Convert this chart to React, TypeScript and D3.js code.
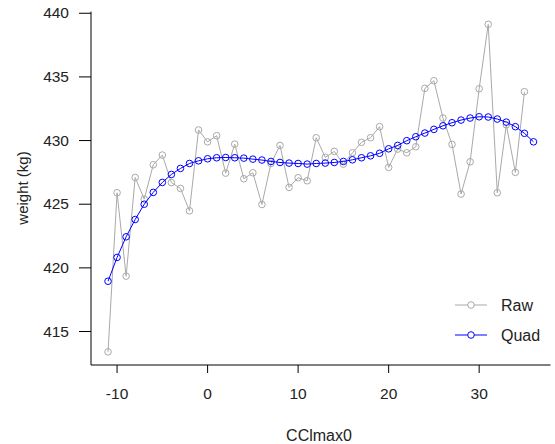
import React from "react";
import * as d3 from "d3";

const rawX = d3.range(-11, 36);
const rawY = [
  413.4, 425.9, 419.35, 427.1, 425.4, 428.1, 428.86, 426.7, 426.24, 424.48,
  430.83, 429.9, 430.38, 427.44, 429.72, 427.0, 427.47, 424.98, 428.2, 429.62,
  426.32, 427.08, 426.84, 430.22, 428.68, 429.15, 428.15, 429.04, 429.86, 430.22,
  431.09, 427.89, 429.33, 429.04, 429.51, 434.1, 434.7, 431.77, 429.7, 425.8,
  428.33, 434.07, 439.13, 425.9, 431.24, 427.5, 433.84,
];
const quadX = d3.range(-11, 37);
const quadY = [
  418.95, 420.82, 422.44, 423.8, 425.0, 425.93, 426.71, 427.34, 427.81, 428.2,
  428.41, 428.57, 428.65, 428.67, 428.65, 428.62, 428.54, 428.47, 428.36, 428.28,
  428.23, 428.2, 428.15, 428.2, 428.23, 428.28, 428.36, 428.49, 428.65, 428.8,
  429.0, 429.35, 429.62, 429.99, 430.3, 430.59, 430.88, 431.16, 431.4, 431.61,
  431.77, 431.87, 431.85, 431.69, 431.45, 431.09, 430.57, 429.9,
];
const xTicks = [-10, 0, 10, 20, 30];
const yTicks = [415, 420, 425, 430, 435, 440];
const legendLabels = ["Raw", "Quad"];

const W = 555;
const H = 444;
const FONT = "'Liberation Sans', Arial, sans-serif";

export default function App() {
  const x = d3.scaleLinear().domain([-12.88, 37.88]).range([91, 550.5]);
  const y = d3.scaleLinear().domain([412.37, 440.13]).range([365, 11.6]);
  const rawPts: [number, number][] = rawX.map((v, i) => [v, rawY[i]]);
  const quadPts: [number, number][] = quadX.map((v, i) => [v, quadY[i]]);
  const line = d3
    .line<[number, number]>()
    .x((d) => x(d[0]))
    .y((d) => y(d[1]));
  const gray = "#a9a9a9";
  const blue = "#0000ff";
  const legendColors = [gray, blue];
  const [x0, x1] = x.range();
  const [yb, yt] = y.range();

  return (
    <svg
      width={W}
      height={H}
      style={{ position: "absolute", left: 0, top: 0, background: "#fff" }}
      fontFamily={FONT}
    >
      <rect width={W} height={H} fill="#fff" />
      {/* raw */}
      <path d={line(rawPts) || ""} fill="none" stroke={gray} strokeWidth={1} />
      {rawPts.map((d, i) => (
        <circle key={"r" + i} cx={x(d[0])} cy={y(d[1])} r={3.3} fill="none" stroke={gray} strokeWidth={1} />
      ))}
      {/* quad */}
      <path d={line(quadPts) || ""} fill="none" stroke={blue} strokeWidth={1} />
      {quadPts.map((d, i) => (
        <circle key={"q" + i} cx={x(d[0])} cy={y(d[1])} r={3.3} fill="none" stroke={blue} strokeWidth={1} />
      ))}
      {/* axes (L box) */}
      <path d={`M${x0},${yt}V${yb}H${x1}`} fill="none" stroke="#000" strokeWidth={1} />
      {xTicks.map((t) => (
        <g key={"xt" + t}>
          <line x1={x(t)} x2={x(t)} y1={yb} y2={yb + 8} stroke="#000" />
          <text x={x(t)} y={399} textAnchor="middle" fontSize={15.5} fill="#222">
            {t}
          </text>
        </g>
      ))}
      {yTicks.map((t) => (
        <g key={"yt" + t}>
          <line x1={x0 - 12} x2={x0} y1={y(t)} y2={y(t)} stroke="#000" />
          <text x={69} y={y(t) + 5} textAnchor="end" fontSize={15.5} fill="#222">
            {t}
          </text>
        </g>
      ))}
      <text x={319} y={441} textAnchor="middle" fontSize={16} fill="#222">
        CClmax0
      </text>
      <text
        transform={`translate(28,188) rotate(-90)`}
        textAnchor="middle"
        fontSize={15}
        fill="#222"
      >
        weight (kg)
      </text>
      {/* legend */}
      {legendLabels.map((lab, i) => {
        const ly = 305 + i * 30;
        return (
          <g key={lab}>
            <line x1={455} x2={487} y1={ly} y2={ly} stroke={legendColors[i]} />
            <circle cx={471} cy={ly} r={3.3} fill="#fff" stroke={legendColors[i]} />
            <text x={501} y={ly + 5.5} fontSize={16} fill="#222">
              {lab}
            </text>
          </g>
        );
      })}
    </svg>
  );
}
